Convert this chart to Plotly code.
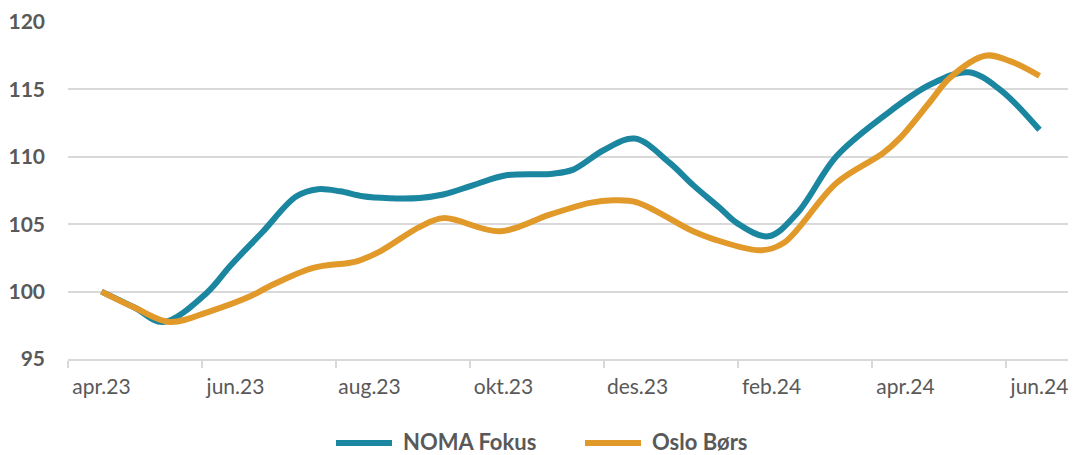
import plotly.graph_objects as go

# Month labels (category axis, one per month)
months = ["apr.23", "mai.23", "jun.23", "jul.23", "aug.23", "sep.23", "okt.23", "nov.23",
          "des.23", "jan.24", "feb.24", "mar.24", "apr.24", "mai.24", "jun.24"]
tick_labels = months[::2]

noma_t = [0, 0.5, 0.92, 1.57, 1.92, 2.4, 2.91, 3.23, 3.56, 3.9, 4.3, 4.75,
          5.1, 5.55, 6.04, 6.74, 7.04, 7.5, 7.96, 8.48, 8.83, 9.23, 9.48, 9.95, 10.38,
          10.97, 11.67, 12.37, 12.94, 13.41, 14.0]
noma_v = [100.0, 98.8, 97.74, 99.9, 101.9, 104.4, 107.07, 107.6, 107.44, 107.07,
          106.93, 106.95, 107.2, 107.9, 108.63, 108.75, 109.05, 110.5, 111.35, 109.55, 107.9,
          106.2, 105.1, 104.1, 105.8, 110.04, 113.0, 115.36, 116.27, 114.99, 112.0]

oslo_t = [0, 0.5, 1.02, 1.62, 2.22, 2.51, 3.16, 3.81, 4.16, 4.75, 5.1, 5.95, 6.69,
          7.29, 7.64, 7.99, 8.83, 9.13, 9.83, 10.18, 10.97, 11.67, 11.92, 12.37, 12.66,
          13.19, 13.56, 14.0]
oslo_v = [100.0, 98.8, 97.75, 98.54, 99.65, 100.4, 101.76, 102.25, 102.99, 104.8,
          105.45, 104.47, 105.71, 106.58, 106.77, 106.62, 104.47, 103.9, 103.07, 103.6,
          108.06, 110.29, 111.4, 114.1, 115.85, 117.5, 117.1, 116.0]

series_names = ["NOMA Fokus", "Oslo Børs"]
colors = ["#1B86A0", "#E1992A"]

FONT = "Lato, Open Sans, sans-serif"
TXT = "#595959"

fig = go.Figure()
for name, t, v, c in [(series_names[0], noma_t, noma_v, colors[0]),
                      (series_names[1], oslo_t, oslo_v, colors[1])]:
    fig.add_trace(go.Scatter(x=t, y=v, mode="lines", name=name, showlegend=False,
                             line=dict(color=c, width=6, shape="spline", smoothing=1.0)))

# Page has an 8px body margin; compensate so the plot sits where the reference's does
OFF = 8
# plot area in page pixels: x 68..1073, y 22..359
W, L = 1005.0, 68.0
H, B = 337.0, 359.0
def px_x(p):
    return (p - L) / W
def px_y(p):
    return (B - p) / H

LEG_Y = 441
legend_items = [(series_names[0], colors[0], 336, 392, 401),
                (series_names[1], colors[1], 585, 641, 650)]
for name, c, x0, x1, xt in legend_items:
    fig.add_shape(type="line", xref="paper", yref="paper",
                  x0=px_x(x0), x1=px_x(x1), y0=px_y(LEG_Y + 2), y1=px_y(LEG_Y + 2),
                  line=dict(color=c, width=6), layer="above")
    fig.add_annotation(xref="paper", yref="paper", x=px_x(xt), y=px_y(LEG_Y),
                       xanchor="left", yanchor="middle", showarrow=False, text=name,
                       font=dict(size=22, color=TXT, family=FONT, weight="bold"))

fig.update_layout(
    width=1076 - OFF, height=455 - OFF,
    margin=dict(l=68 - OFF, r=3, t=22 - OFF, b=96, autoexpand=False),
    plot_bgcolor="white", paper_bgcolor="white",
    font=dict(family=FONT, color=TXT),
    showlegend=False,
)
fig.update_xaxes(
    range=[-0.5, 14.5],
    tickmode="array", tickvals=list(range(0, 15, 2)), ticktext=tick_labels,
    ticks="", showgrid=False, zeroline=False,
    showline=True, linecolor="#d9d9d9", linewidth=2,
    tickfont=dict(size=21, color=TXT, family=FONT),
    ticklabelstandoff=8,
    minor=dict(tickmode="linear", tick0=-0.5, dtick=2, ticks="outside", ticklen=7,
               tickcolor="#d9d9d9", tickwidth=2, showgrid=False),
)
fig.update_yaxes(
    range=[95, 120], tickmode="array", tickvals=[95, 100, 105, 110, 115, 120],
    showgrid=True, gridcolor="#d9d9d9", gridwidth=2, zeroline=False,
    ticks="", tickfont=dict(size=21, color=TXT, family=FONT, weight="bold"),
    ticklabelstandoff=22,
)

fig.write_html("out.html")
